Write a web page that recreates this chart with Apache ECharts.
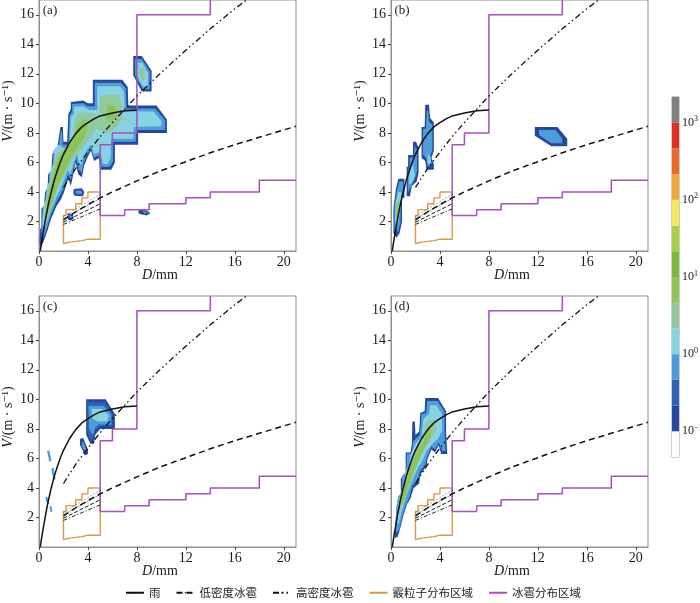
<!DOCTYPE html>
<html><head><meta charset="utf-8">
<script src="https://cdn.jsdelivr.net/npm/echarts@6/dist/echarts.min.js"></script>
<style>html,body{margin:0;padding:0;background:#fff}#chart{width:700px;height:603px}</style>
</head><body><div id="chart"></div>
<script>
// ---------- tick labels / levels ----------
const xTicks = [0, 4, 8, 12, 16, 20];
const yTicks = [2, 4, 6, 8, 10, 12, 14, 16];
const colorbarTicks = [-1, 0, 1, 2, 3];
const colorbarExponents = ['−1', '0', '1', '2', '3'];
const colorbarBounds = [-4/3, -1, -2/3, -1/3, 0, 1/3, 2/3, 1, 4/3, 5/3, 2, 7/3, 8/3, 3, 10/3];
const colorbarColors = ['#ffffff', '#2547a0', '#2d62b5', '#4d9ed8', '#88d2e2', '#90c99e', '#8cc456',
                        '#7cb83a', '#a8cf48', '#f4ea5c', '#f2a83c', '#ea6a2c', '#e02d26', '#808080'];
const levelColors = ['#2547a0', '#2d62b5', '#4d9ed8', '#88d2e2', '#90c99e', '#8cc456'];
const panelLabels = ['(a)', '(b)', '(c)', '(d)'];
const legendNames = ['雨', '低密度冰雹', '高密度冰雹', '霰粒子分布区域', '冰雹分布区域'];

// ---------- reference curves ----------
const rainCurve = [[0.1,0],[0.25,0.8],[0.5,2.0],[0.75,3.1],[1,4.0],[1.25,4.8],[1.5,5.45],[1.75,6.05],[2,6.55],
  [2.5,7.35],[3,7.95],[3.5,8.4],[4,8.7],[4.5,8.95],[5,9.15],[6,9.35],[7,9.5],[8,9.55]];
const lowDensityHail = [[2,2.1],[3,2.65],[4,3.15],[5,3.6],[6,4.0],[8,4.75],[10,5.45],[12,6.05],[14,6.65],[16,7.2],[18,7.7],[21,8.45]];
const highDensityHail = [[2,4.3],[3,5.6],[4,6.7],[5,7.75],[6,8.7],[8,10.5],[10,12.1],[12,13.6],[14,15.05],[16,16.4],[16.95,17.0]];
const graupelRegion = [[2,0.5],[2,2.4],[2.2,2.4],[2.2,2.8],[3,2.8],[3,3.2],[3.5,3.2],[3.5,3.6],[4,3.6],[4,4.0],[5,4.0],
  [5,0.8],[4,0.8],[4,0.7],[3.5,0.7],[3.5,0.6],[2.5,0.6],[2.5,0.5],[2,0.5]];
const hailRegion = [[14,17],[14,16],[8,16],[8,8],[6,8],[6,7.2],[5,7.2],[5,2.4],[7,2.4],[7,2.8],[9,2.8],[9,3.2],
  [12,3.2],[12,3.6],[14,3.6],[14,4],[18,4],[18,4.8],[21,4.8]];
const graupelLineA = [[2,2.35],[5,3.85]];
const graupelLineB = [[2,2.2],[5,3.55]];
const graupelLineC = [[2,1.95],[5,3.2]];
const graupelLineD = [[2,1.8],[5,2.85]];

// ---------- contour regions: [level, polygon] ----------
const blobsA = [
 [0, [[0.05,0.6],[0.1,1.5],[0.2,1.6],[0.2,2.9],[0.4,3.0],[0.5,4.0],[0.7,4.2],[0.75,5.2],[1.0,5.4],[1.1,6.6],[1.5,6.7],[1.55,7.3],
      [1.75,8.4],[1.95,8.4],[2.0,7.4],[2.3,7.4],[2.4,9.3],[2.6,9.6],[2.6,10.1],[3.6,10.2],[4.0,10.0],[4.4,10.0],[4.4,11.6],
      [6.8,11.6],[7.25,11.1],[7.3,9.85],[9.6,9.85],[10.45,8.9],[10.45,8.0],[8.1,8.0],[8.1,7.2],[6.2,7.2],[6.2,6.0],[5.9,5.5],
      [5.0,5.5],[4.9,6.3],[4.5,6.1],[4.25,6.8],[4.0,6.4],[3.7,5.8],[3.5,5.0],[3.2,5.2],[3.0,6.0],[2.8,5.2],[2.6,4.4],[2.4,4.9],
      [2.05,4.0],[1.8,3.5],[1.4,3.0],[1.0,2.2],[0.7,1.4],[0.4,0.7],[0.15,0.2]]],
 [2, [[0.2,1.3],[0.3,3.0],[0.5,3.2],[0.6,4.2],[0.8,4.4],[0.85,5.3],[1.1,5.6],[1.2,6.8],[1.6,6.9],[1.7,7.6],[1.8,8.1],[1.88,8.1],
      [1.95,7.2],[2.4,7.2],[2.5,9.2],[2.7,9.45],[2.7,9.95],[3.6,10.0],[4.0,9.8],[4.55,9.8],[4.55,11.4],[6.7,11.4],[7.1,11.0],
      [7.15,9.65],[9.5,9.65],[10.3,8.85],[10.3,8.2],[7.95,8.2],[7.9,7.4],[6.05,7.4],[6.05,6.1],[5.8,5.7],[5.1,5.7],[4.95,6.5],
      [4.5,6.3],[4.25,7.0],[4.0,6.6],[3.65,6.0],[3.5,5.3],[3.25,5.5],[3.05,6.3],[2.8,5.5],[2.6,4.8],[2.4,5.2],[2.05,4.3],
      [1.75,3.8],[1.4,3.3],[1.0,2.5],[0.7,1.7],[0.45,1.1],[0.25,0.8]]],
 [3, [[0.3,1.8],[0.4,3.2],[0.6,3.5],[0.7,4.5],[0.9,4.7],[0.95,5.6],[1.2,5.9],[1.3,7.0],[1.65,7.2],[1.9,7.0],[2.5,7.0],
      [2.6,9.1],[2.85,9.3],[2.85,9.75],[3.6,9.8],[4.1,9.55],[4.75,9.55],[4.75,11.15],[6.6,11.15],[6.95,10.8],[7.0,9.45],
      [9.35,9.45],[10.0,8.8],[10.0,8.45],[7.75,8.4],[7.7,7.6],[5.9,7.6],[5.85,6.3],[5.6,5.9],[5.25,5.9],[5.0,6.7],[4.5,6.55],
      [4.25,7.2],[3.95,6.9],[3.6,6.3],[3.45,5.8],[3.25,6.0],[3.1,6.6],[2.8,5.9],[2.55,5.2],[2.35,5.5],[2.0,4.7],[1.7,4.1],
      [1.4,3.6],[1.0,2.8],[0.7,2.1],[0.45,1.5]]],
 [4, [[0.4,2.2],[0.55,3.5],[0.85,4.6],[1.1,5.6],[1.45,6.6],[2.0,6.9],[2.7,7.2],[2.9,8.8],[3.3,9.4],[4.2,9.35],[4.9,9.2],
      [5.0,10.5],[6.4,10.6],[6.8,10.0],[6.8,9.0],[6.2,8.2],[5.6,8.0],[4.6,8.3],[4.3,7.8],[3.8,7.3],[3.4,6.8],[2.9,6.4],
      [2.5,5.8],[2.1,5.2],[1.7,4.5],[1.35,3.8],[1.05,3.0],[0.75,2.3],[0.5,1.8]]],
 [5, [[0.6,3.0],[0.8,4.0],[1.1,5.0],[1.4,5.9],[1.8,6.6],[2.3,7.1],[2.8,7.6],[3.2,8.6],[3.7,8.9],[4.0,8.5],[3.7,7.7],
      [3.2,7.1],[2.7,6.5],[2.3,5.8],[1.9,5.1],[1.5,4.4],[1.2,3.6],[0.9,2.9],[0.7,2.5]]],
 [5, [[5.5,8.9],[5.6,9.9],[6.2,9.8],[6.4,9.2],[6.0,8.8]]],
 [0, [[7.7,13.2],[8.4,13.2],[9.2,12.2],[9.2,10.8],[8.4,10.8],[7.7,11.9]]],
 [2, [[7.85,13.0],[8.4,13.0],[9.05,12.15],[9.05,10.95],[8.5,10.95],[7.85,11.9]]],
 [3, [[8.0,12.75],[8.45,12.75],[8.9,12.05],[8.9,11.15],[8.5,11.1],[8.0,11.9]]],
 [4, [[8.2,12.4],[8.6,12.4],[8.7,11.8],[8.55,11.5],[8.2,11.8]]],
 [0, [[2.85,4.2],[3.5,4.25],[3.7,4.0],[3.6,3.7],[2.9,3.75],[2.8,3.95]]],
 [2, [[3.0,4.1],[3.45,4.1],[3.55,3.95],[3.45,3.85],[3.0,3.9]]],
 [0, [[2.35,2.55],[2.75,2.5],[2.85,2.2],[2.6,2.05],[2.35,2.15]]],
 [2, [[2.5,2.4],[2.7,2.35],[2.7,2.2],[2.5,2.2]]],
 [0, [[8.2,2.8],[8.8,2.75],[9.1,2.55],[8.8,2.4],[8.2,2.5],[8.1,2.65]]],
 [2, [[8.5,2.7],[8.9,2.6],[8.6,2.5]]]
];
const blobsB = [
 [0, [[0.2,1.2],[0.2,2.9],[0.4,4.2],[0.6,4.9],[1.1,4.9],[1.1,3.6],[0.9,3.6],[0.9,2.0],[0.7,1.2],[0.45,0.9]]],
 [2, [[0.28,1.5],[0.28,3.0],[0.48,4.1],[0.68,4.7],[1.0,4.7],[1.0,3.75],[0.8,3.6],[0.78,2.0],[0.6,1.3]]],
 [3, [[0.33,1.9],[0.38,3.2],[0.58,4.0],[0.85,4.0],[0.72,2.5],[0.55,1.8]]],
 [5, [[0.42,2.1],[0.48,3.3],[0.66,3.4],[0.63,2.3]]],
 [0, [[1.28,3.7],[1.28,5.7],[1.4,5.7],[1.4,6.5],[1.8,6.5],[1.8,7.4],[2.05,7.4],[2.25,7.0],[2.25,5.3],[2.1,4.7],[1.7,4.4],[1.55,3.7]]],
 [2, [[1.38,4.0],[1.38,5.55],[1.52,5.55],[1.52,6.3],[1.88,6.35],[1.95,7.1],[2.12,6.85],[2.12,5.4],[1.95,4.9],[1.6,4.3]]],
 [3, [[1.48,4.5],[1.52,5.35],[1.8,5.9],[1.95,5.1],[1.72,4.65]]],
 [0, [[2.5,6.3],[2.5,8.4],[2.75,8.4],[2.8,9.9],[3.1,9.9],[3.2,9.0],[3.5,8.7],[3.5,6.8],[3.3,6.3],[3.5,5.9],[3.5,5.5],[2.9,5.5],[2.8,6.1]]],
 [2, [[2.62,6.5],[2.62,8.25],[2.85,8.3],[2.92,9.5],[3.05,9.5],[3.1,8.75],[3.38,8.55],[3.38,6.85],[3.18,6.35],[3.35,5.9],[3.0,5.7],[2.88,6.3]]],
 [3, [[3.0,5.9],[3.0,6.55],[3.22,6.4],[3.28,5.95]]],
 [0, [[11.75,8.4],[13.6,8.4],[14.4,7.6],[14.4,7.1],[13.1,7.1],[11.75,7.8]]],
 [2, [[12.1,8.2],[13.45,8.2],[14.0,7.6],[14.0,7.3],[13.1,7.3],[12.1,7.85]]]
];
const blobsC = [
 [2, [[0.66,6.5],[0.84,6.55],[1.02,5.85],[0.84,5.78]]],
 [2, [[1.0,5.3],[1.2,5.38],[1.36,4.6],[1.18,4.52]]],
 [2, [[0.5,3.35],[0.68,3.4],[0.86,2.95],[0.68,2.88]]],
 [2, [[0.85,2.75],[1.0,2.8],[1.1,2.4],[0.95,2.35]]],
 [0, [[3.85,10.0],[5.45,10.0],[6.2,9.0],[6.2,8.0],[5.0,8.0],[4.6,7.6],[4.5,7.0],[4.2,7.0],[3.85,7.6]]],
 [1, [[3.95,9.8],[5.4,9.8],[6.0,9.0],[6.0,8.2],[5.0,8.2],[4.6,7.9],[4.4,7.3],[4.2,7.3],[3.95,7.8]]],
 [2, [[4.05,9.55],[5.3,9.55],[5.9,9.0],[5.9,8.3],[4.9,8.3],[4.6,8.1],[4.4,7.6],[4.1,8.0]]],
 [3, [[4.3,9.35],[5.2,9.35],[5.7,8.9],[5.6,8.5],[4.8,8.5],[4.35,8.7]]],
 [0, [[3.35,7.3],[3.6,7.4],[4.0,6.6],[4.0,6.3],[3.75,6.2],[3.35,6.9]]],
 [2, [[3.5,7.1],[3.65,7.1],[3.85,6.6],[3.7,6.5],[3.5,6.8]]]
];
const blobsD = [
 [0, [[0.3,0.6],[0.35,1.4],[0.45,2.7],[0.6,3.4],[0.8,3.6],[0.8,4.6],[1.0,4.9],[1.2,5.0],[1.2,6.4],[1.6,6.4],[1.7,7.0],
      [1.75,8.5],[1.95,8.5],[2.0,7.6],[2.3,7.8],[2.4,9.1],[2.75,9.2],[2.8,10.1],[3.85,10.1],[4.5,9.2],[4.5,7.8],[4.6,6.3],
      [4.1,6.3],[3.9,6.9],[3.6,6.4],[3.3,6.6],[3.0,6.0],[2.9,5.5],[2.4,4.9],[2.3,4.3],[1.85,4.0],[1.6,3.3],[1.3,2.9],
      [1.0,2.1],[0.8,1.4],[0.55,0.7]]],
 [2, [[0.37,0.9],[0.42,2.6],[0.57,3.3],[0.87,3.65],[0.9,4.7],[1.25,5.1],[1.3,6.3],[1.68,6.35],[1.8,7.15],[2.35,7.6],
      [2.5,9.0],[2.88,9.1],[2.95,9.88],[3.82,9.88],[4.38,9.15],[4.38,7.8],[4.46,6.5],[4.18,6.5],[3.9,7.1],[3.6,6.6],
      [3.3,6.8],[2.95,6.1],[2.8,5.6],[2.35,5.1],[2.2,4.5],[1.75,4.15],[1.5,3.35],[1.2,2.85],[0.92,2.05],[0.68,1.2]]],
 [3, [[0.45,1.5],[0.55,2.8],[0.75,3.5],[1.05,4.3],[1.2,5.0],[1.5,5.6],[1.6,6.2],[2.0,7.0],[2.5,7.5],[2.65,8.7],[3.1,9.0],
      [3.2,9.6],[3.7,9.6],[4.15,9.0],[4.2,7.9],[3.8,7.3],[3.4,7.0],[2.9,6.5],[2.6,5.9],[2.2,5.35],[1.9,4.8],[1.5,4.0],
      [1.2,3.3],[0.9,2.5],[0.65,1.7]]],
 [4, [[0.55,2.2],[0.7,3.2],[1.0,4.0],[1.3,4.9],[1.7,5.8],[2.1,6.6],[2.6,7.3],[2.8,8.3],[3.2,8.6],[3.6,8.6],[3.7,7.9],
      [3.3,7.4],[2.9,7.0],[2.5,6.3],[2.1,5.6],[1.7,4.8],[1.35,4.0],[1.05,3.2],[0.75,2.4]]],
 [5, [[0.7,2.8],[0.9,3.6],[1.2,4.4],[1.5,5.2],[1.9,6.0],[2.3,6.7],[2.7,7.2],[3.0,7.9],[3.3,7.9],[3.2,7.3],[2.8,6.8],
      [2.4,6.1],[2.0,5.3],[1.6,4.5],[1.3,3.7],[1.0,3.0]]]
];
const panelBlobs = [blobsA, blobsB, blobsC, blobsD];

// ---------- layout ----------
const grids = [
  {left: 39, top: 0, width: 257, height: 251},
  {left: 391, top: 0, width: 257, height: 251},
  {left: 39, top: 296, width: 257, height: 251},
  {left: 391, top: 296, width: 257, height: 251}
];
const serif = '"Liberation Serif", "DejaVu Serif", serif';
const cjk = '"Noto Sans CJK SC", sans-serif';

const option = {
  animation: false,
  backgroundColor: '#fff',
  grid: grids.map(g => Object.assign({show: true, borderColor: '#8f8f8f', borderWidth: 1, backgroundColor: 'transparent',
      containLabel: false, outerBoundsMode: 'none'}, g))
    .concat([{left: 672, top: 97, width: 7, height: 360, show: true, borderColor: '#999', borderWidth: 1,
      containLabel: false, outerBoundsMode: 'none'}]),
  xAxis: [],
  yAxis: [],
  series: [],
  legend: {
    data: legendNames, left: 120, top: 582, itemWidth: 18, itemHeight: 2, itemGap: 15,
    textStyle: {fontFamily: cjk, fontSize: 11.5, color: '#222'}
  },
  graphic: []
};

for (let i = 0; i < 4; i++) {
  option.xAxis.push({
    gridIndex: i, type: 'value', min: 0, max: 21, interval: 4,
    axisLine: {show: true, onZero: false, lineStyle: {color: '#8f8f8f', width: 1}},
    axisTick: {show: true, inside: false, length: 3, lineStyle: {color: '#444'}, customValues: xTicks},
    axisLabel: {customValues: xTicks, margin: 4, fontFamily: serif, fontSize: 14, color: '#1a1a1a',
      formatter: v => xTicks.indexOf(v) >= 0 ? String(v) : ''},
    splitLine: {show: false}
  });
  option.yAxis.push({
    gridIndex: i, type: 'value', min: 0, max: 17, interval: 2,
    axisLine: {show: true, onZero: false, lineStyle: {color: '#8f8f8f', width: 1}},
    axisTick: {show: true, inside: false, length: 3, lineStyle: {color: '#444'}, customValues: yTicks},
    axisLabel: {customValues: yTicks, margin: 5, fontFamily: serif, fontSize: 14, color: '#1a1a1a',
      formatter: v => yTicks.indexOf(v) >= 0 ? String(v) : ''},
    splitLine: {show: false}
  });

  const blobs = panelBlobs[i];
  option.series.push({
    type: 'custom', xAxisIndex: i, yAxisIndex: i, silent: true, z: 1, clip: true,
    data: blobs.map((b, k) => [b[1][0][0], b[1][0][1], k]),
    encode: {x: 0, y: 1},
    renderItem: (params, api) => {
      const b = blobs[params.dataIndex];
      return {type: 'polygon', shape: {points: b[1].map(p => api.coord(p))},
              style: {fill: levelColors[b[0]], stroke: null}};
    }
  });

  const line = (name, data, style, z) => ({
    type: 'line', name: name, xAxisIndex: i, yAxisIndex: i, data: data, symbol: 'none', showSymbol: false,
    silent: true, z: z || 3, clip: true, lineStyle: style, itemStyle: {color: style.color}, color: style.color,
    emphasis: {disabled: true}
  });
  option.series.push(line('霰粒子分布区域', graupelRegion, {color: '#d79a4c', width: 1.4}));
  option.series.push(line('冰雹分布区域', hailRegion, {color: '#a452b8', width: 1.5}));
  option.series.push(line('g1', graupelLineA, {color: '#666', width: 0.8, type: [1.5, 2]}));
  option.series.push(line('g2', graupelLineB, {color: '#888', width: 0.7}));
  option.series.push(line('g3', graupelLineC, {color: '#222', width: 1, type: [4, 2]}));
  option.series.push(line('g4', graupelLineD, {color: '#222', width: 1, type: [4, 2, 1, 2]}));
  option.series.push(line('雨', rainCurve, {color: '#111', width: 1.5}, 4));
  option.series.push(line('低密度冰雹', lowDensityHail, {color: '#111', width: 1.5, type: [6, 4]}, 4));
  option.series.push(line('高密度冰雹', highDensityHail, {color: '#111', width: 1.3, type: [6, 3, 1.5, 3, 1.5, 3]}, 4));

  const g = grids[i];
  option.graphic.push({type: 'text', x: g.left + 11, y: g.top + 11,
    style: {text: panelLabels[i], fontFamily: serif, fontSize: 13, fill: '#222', align: 'center', verticalAlign: 'middle'}});
  option.graphic.push({type: 'text', x: g.left + 121, y: g.top + 275,
    style: {text: '{i|D}/mm', rich: {i: {fontStyle: 'italic', fontFamily: serif, fontSize: 14, fill: '#1a1a1a'}},
      fontFamily: serif, fontSize: 14, fill: '#1a1a1a', align: 'center', verticalAlign: 'middle'}});
  option.graphic.push({type: 'text', x: g.left - 31, y: g.top + (i < 2 ? 111 : 121), rotation: Math.PI / 2,
    style: {text: '{i|V}/(m · s⁻¹)', rich: {i: {fontStyle: 'italic', fontFamily: serif, fontSize: 14, fill: '#1a1a1a'}},
      fontFamily: serif, fontSize: 14, fill: '#1a1a1a', align: 'center', verticalAlign: 'middle'}});
}

// ---------- colour bar ----------
option.xAxis.push({gridIndex: 4, type: 'value', min: 0, max: 1, show: false});
option.yAxis.push({
  gridIndex: 4, type: 'value', position: 'right', min: -4/3, max: 10/3, interval: 1/3,
  axisLine: {show: false}, axisTick: {show: false}, splitLine: {show: false},
  axisLabel: {customValues: colorbarTicks, margin: 3, fontFamily: serif, fontSize: 12, color: '#1a1a1a',
    rich: {s: {fontFamily: serif, fontSize: 8, color: '#1a1a1a', verticalAlign: 'top', padding: [0, 0, 7, 0]}},
    formatter: v => {
      for (let k = 0; k < colorbarTicks.length; k++)
        if (Math.abs(v - colorbarTicks[k]) < 1e-3) return '10{s|' + colorbarExponents[k] + '}';
      return '';
    }}
});
option.series.push({
  type: 'custom', xAxisIndex: 4, yAxisIndex: 4, silent: true,
  data: colorbarColors.map((c, k) => [0, colorbarBounds[k], colorbarBounds[k + 1], k]),
  encode: {x: 0, y: [1, 2]},
  renderItem: (params, api) => {
    const p0 = api.coord([0, api.value(2)]);
    const p1 = api.coord([1, api.value(1)]);
    return {type: 'rect', shape: {x: p0[0], y: p0[1], width: p1[0] - p0[0], height: p1[1] - p0[1]},
            style: {fill: colorbarColors[api.value(3)]}};
  }
});

const chart = echarts.init(document.getElementById('chart'), null, {renderer: 'canvas'});
chart.setOption(option);
</script>
</body></html>
